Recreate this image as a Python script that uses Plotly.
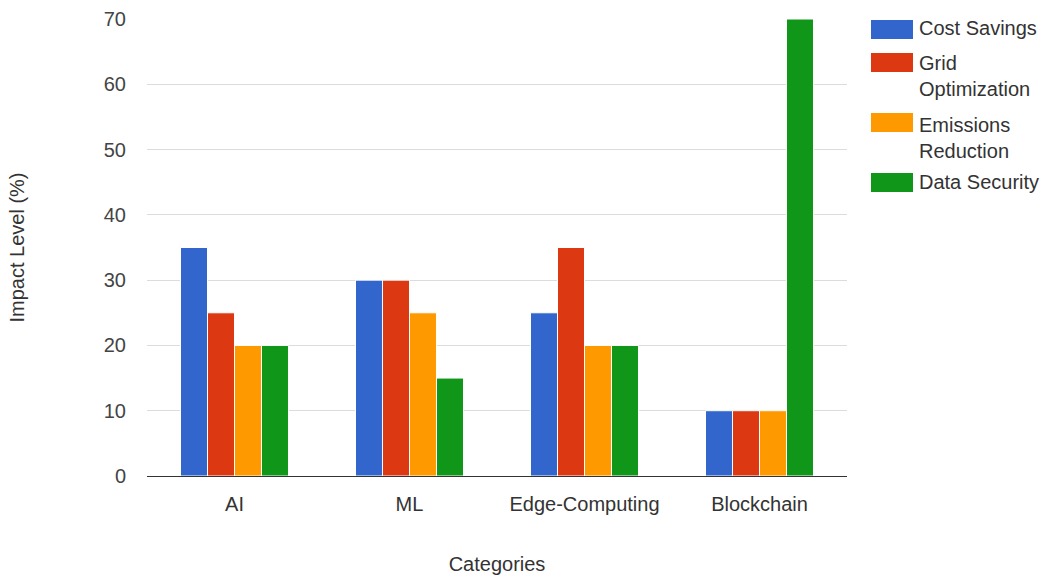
import plotly.graph_objects as go

categories = ["AI", "ML", "Edge-Computing", "Blockchain"]
series_names = ["Cost Savings", "Grid Optimization", "Emissions Reduction", "Data Security"]
legend_labels = ["Cost Savings", "Grid<br>Optimization", "Emissions<br>Reduction", "Data Security"]
cost_savings = [35, 30, 25, 10]
grid_optimization = [25, 30, 35, 10]
emissions_reduction = [20, 25, 20, 10]
data_security = [20, 15, 20, 70]
colors = ["#3366CC", "#DC3912", "#FF9900", "#109618"]

series_values = [cost_savings, grid_optimization, emissions_reduction, data_security]

W, H = 1053, 575
L, R, T, B = 147, 206, 19, 99
plot_h = H - T - B
plot_w = W - L - R

FONT = "Liberation Sans, Arial, sans-serif"

fig = go.Figure()
for name, vals, col in zip(series_names, series_values, colors):
    fig.add_trace(go.Bar(
        x=categories, y=vals, name=name,
        marker=dict(color=col, line=dict(color="white", width=1)),
        showlegend=False,
    ))

def py_to_paper(py):
    return (H - B - py) / plot_h

def px_to_paper(px):
    return (px - L) / plot_w

shapes = []
annotations = []
# custom legend (swatch top pixel, text top pixel)
swatch_tops = [20, 53, 113, 173]
text_tops = [16, 51, 113, 170]
for lab, col, st, tt in zip(legend_labels, colors, swatch_tops, text_tops):
    shapes.append(dict(type="rect", xref="paper", yref="paper",
                       x0=px_to_paper(871), x1=px_to_paper(913),
                       y0=py_to_paper(st + 19), y1=py_to_paper(st),
                       fillcolor=col, line=dict(width=0)))
    annotations.append(dict(text=lab, xref="paper", yref="paper",
                            x=px_to_paper(918), y=py_to_paper(tt),
                            xanchor="left", yanchor="top", align="left",
                            showarrow=False, borderpad=0,
                            font=dict(family=FONT, size=20, color="#333333")))

fig.update_layout(
    width=W, height=H,
    margin=dict(l=L, r=R, t=T, b=B, autoexpand=False),
    paper_bgcolor="white", plot_bgcolor="white",
    barmode="group", bargap=0.383, bargroupgap=0.0,
    font=dict(family=FONT, size=20, color="#333333"),
    shapes=shapes, annotations=annotations,
    xaxis=dict(
        title=dict(text="Categories", font=dict(size=20, color="#333333"), standoff=44),
        showgrid=False, showline=False, ticks="", ticklabelstandoff=14,
        tickfont=dict(size=20, color="#333333"),
    ),
    yaxis=dict(
        title=dict(text="Impact Level (%)", font=dict(size=20, color="#333333"), standoff=73),
        range=[0, 70], dtick=10, showgrid=True, gridcolor="#DCDCDC", gridwidth=1,
        zeroline=True, zerolinecolor="#333333", zerolinewidth=1,
        showline=False, ticks="", ticklabelstandoff=20,
        tickfont=dict(size=20, color="#444444"),
    ),
)

fig.write_html("out.html")
